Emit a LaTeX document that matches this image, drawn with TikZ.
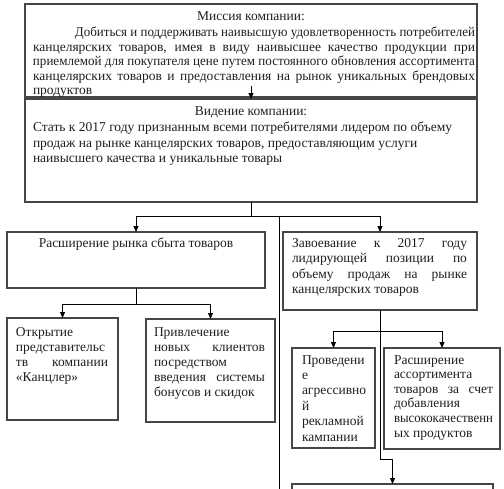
\documentclass[tikz,border=0pt]{standalone}
\usepackage{fontspec}
\usepackage{graphicx}
\setmainfont{Liberation Serif}
\usetikzlibrary{arrows.meta}
\definecolor{boxgray}{RGB}{70,70,70}
\definecolor{txtc}{RGB}{30,30,30}
\newsavebox\jlbox
\newcommand{\JL}[2]{\sbox\jlbox{#2}\ifdim\wd\jlbox>#1\relax\resizebox{#1}{\height}{\usebox\jlbox}\else\makebox[#1][s]{#2}\fi}
\tikzset{
  box/.style={draw=boxgray, line width=1.2pt, inner sep=0pt, outer sep=0pt, anchor=north west},
  conn/.style={draw=black, line width=0.9pt},
  arr/.style={conn, -{Triangle[length=6pt,width=5pt]}},
  tx/.style={inner sep=0pt, outer sep=0pt, align=left, text=txtc, anchor=base west, font=\fontsize{13.5}{15}\selectfont},
  txc/.style={tx, anchor=base, align=center},
}
\begin{document}
\begin{tikzpicture}[x=1pt,y=-1pt]
\useasboundingbox (0,0) rectangle (504,488);
\clip (0,0) rectangle (504,488);
% boxes
\node[box, minimum width=452pt, minimum height=93pt] (mission) at (25,4) {};
\node[box, minimum width=452pt, minimum height=103pt] (vision) at (25,99) {};
\node[box, minimum width=258pt, minimum height=56pt] (rasp) at (7,232) {};
\node[box, minimum width=194pt, minimum height=78pt] (zav) at (283,232) {};
\node[box, minimum width=111pt, minimum height=102pt] (otk) at (7,318) {};
\node[box, minimum width=129pt, minimum height=103pt] (priv) at (146,319) {};
\node[box, minimum width=83pt, minimum height=100pt] (prov) at (292,348) {};
\node[box, minimum width=116pt, minimum height=101pt] (rasa) at (384,348) {};
\node[box, minimum width=201pt, minimum height=60pt] (bot) at (292,484) {};
% texts (multi-line nodes are placed by the baseline of their last line)
\node[txc] (mt) at (251,20.5) {Миссия компании:};
\node[tx, font=\fontsize{13.5}{14.5}\selectfont] (mp) at (33,94.5) {\hspace*{42pt}\JL{400pt}{Добиться и поддерживать наивысшую удовлетворенность потребителей}\\
\JL{442pt}{канцелярских товаров, имея в виду наивысшее качество продукции при}\\
\JL{442pt}{приемлемой для покупателя цене путем постоянного обновления ассортимента}\\
\JL{442pt}{канцелярских товаров и предоставления на рынок уникальных брендовых}\\
продуктов};
\node[txc] (vt) at (251,115.5) {Видение компании:};
\node[tx, font=\fontsize{13.5}{15.5}\selectfont] (vp) at (33,162.5) {Стать к 2017 году признанным всеми потребителями лидером по объему\\
продаж на рынке канцелярских товаров, предоставляющим услуги\\
наивысшего качества и уникальные товары};
\node[txc] (rt) at (136,247) {Расширение рынка сбыта товаров};
\node[tx, font=\fontsize{13.5}{15.5}\selectfont] (zt) at (292,293.5) {\JL{175pt}{Завоевание к 2017 году}\\
\JL{175pt}{лидирующей позиции по}\\
\JL{175pt}{объему продаж на рынке}\\
канцелярских товаров};
\node[tx] (ot) at (16,381) {Открытие\\ представительс\\ \JL{92pt}{тв компании}\\ «Канцлер»};
\node[tx] (pt) at (154,396) {Привлечение\\ \JL{111pt}{новых клиентов}\\ посредством\\ \JL{111pt}{введения системы}\\ бонусов и скидок};
\node[tx, font=\fontsize{13.5}{15.4}\selectfont] (prt) at (302,441) {Проведени\\ е\\ агрессивно\\ й\\ рекламной\\ кампании};
\node[tx, font=\fontsize{13.5}{14.6}\selectfont] (rat) at (394,437) {Расширение\\ ассортимента\\ \JL{99pt}{товаров за счет}\\ добавления\\ \JL{99pt}{высококачественн}\\ ых продуктов};
% connectors
\draw[arr] ([yshift=11pt]mission.south) -- (vision.north);
\coordinate (j1) at (251,216);
\coordinate (lvtop) at (279,216);
\coordinate (lvend) at (279,500);
\draw[conn] (vision.south) -- (j1);
\draw[arr] (j1) -| (rasp.north);
\draw[arr] (j1) -| (zav.north);
\draw[conn] (lvtop) -- (lvend);
\coordinate (j2) at (136,304);
\draw[conn] (rasp.south) -- (j2);
\draw[arr] (j2) -| (otk.north);
\draw[arr] (j2) -| (priv.north);
\coordinate (j3) at (380,331);
\coordinate (j4) at (380,459);
\draw[conn] (zav.south) -- (j3);
\draw[arr] (j3) -| (prov.north);
\draw[arr] (j3) -| (rasa.north);
\draw[conn] (j3) -- (j4);
\draw[arr] (j4) -| (bot.north);
\end{tikzpicture}
\end{document}
